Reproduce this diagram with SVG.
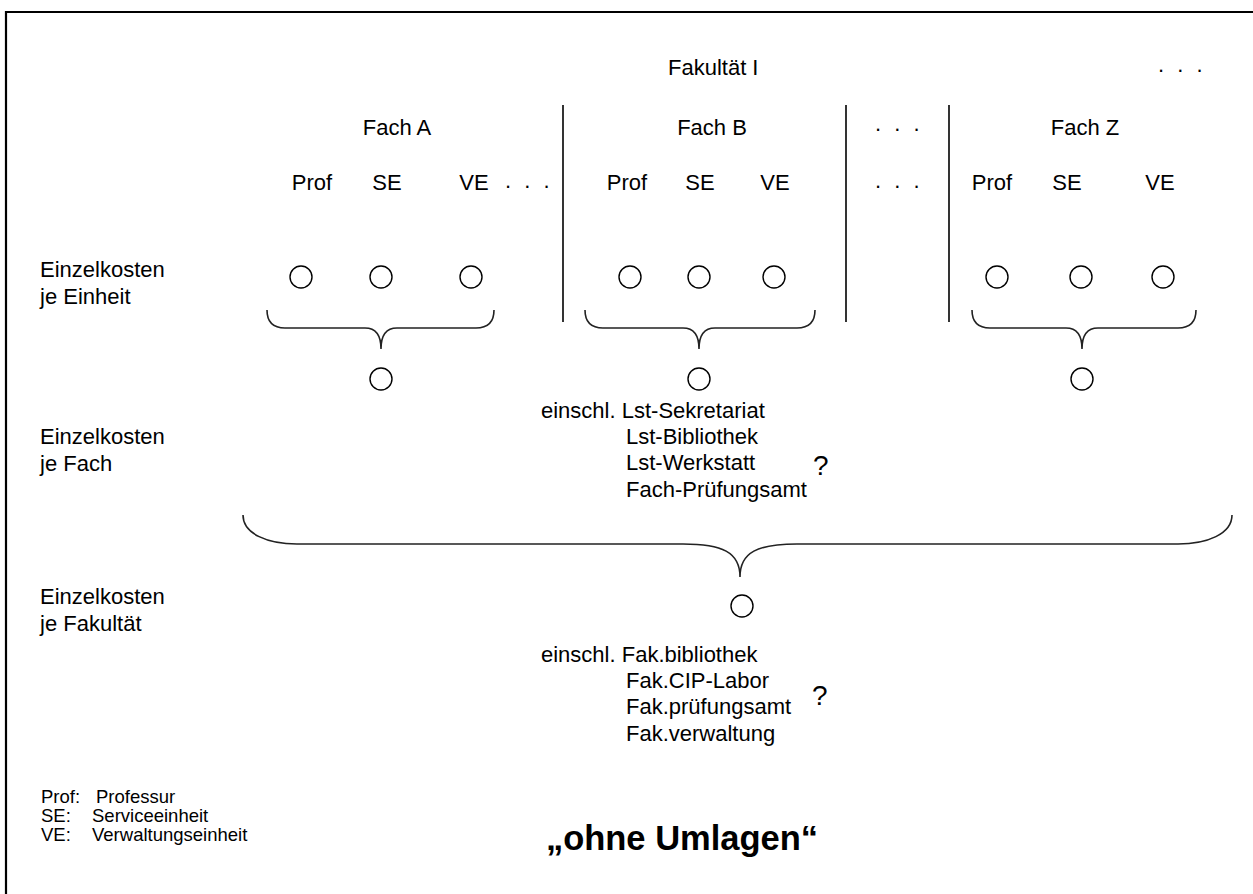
<svg xmlns="http://www.w3.org/2000/svg" width="1253" height="894" viewBox="0 0 1253 894">
  <style>
    text { font-family: "Liberation Sans", Arial, sans-serif; fill: #000; }
    .t { font-size: 22px; }
    .c { text-anchor: middle; }
    .dots { font-size: 22px; word-spacing: 7px; }
    .q { font-size: 28px; }
    .leg { font-size: 18.5px; }
    .title { font-size: 34.5px; font-weight: bold; text-anchor: middle; }
    .unit { fill: #fff; stroke: #000; stroke-width: 1.4; }
    .brace { fill: none; stroke: #222; stroke-width: 1.6; }
    .sep { stroke: #000; stroke-width: 1.6; }
  </style>

  <rect width="1253" height="894" fill="#fff"/>
  <!-- frame -->
  <path d="M6,894 V12 H1253" fill="none" stroke="#000" stroke-width="2.2"/>

  <!-- headers -->
  <g id="header">
    <text class="t" x="668" y="75">Fakultät I</text>
    <text class="dots" x="1158" y="72">. . .</text>
    <text class="t c" x="397" y="135">Fach A</text>
    <text class="t c" x="712" y="135">Fach B</text>
    <text class="dots" x="875" y="131">. . .</text>
    <text class="t c" x="1085" y="135">Fach Z</text>

    <text class="t c" x="312" y="190">Prof</text>
    <text class="t c" x="387" y="190">SE</text>
    <text class="t c" x="474" y="190">VE</text>
    <text class="dots" x="505" y="188">. . .</text>
    <text class="t c" x="627" y="190">Prof</text>
    <text class="t c" x="700" y="190">SE</text>
    <text class="t c" x="775" y="190">VE</text>
    <text class="dots" x="875" y="188">. . .</text>
    <text class="t c" x="992" y="190">Prof</text>
    <text class="t c" x="1067" y="190">SE</text>
    <text class="t c" x="1160" y="190">VE</text>
  </g>

  <!-- separators between subjects -->
  <g id="separators">
    <line class="sep" x1="563" y1="105" x2="563" y2="322"/>
    <line class="sep" x1="846" y1="105" x2="846" y2="322"/>
    <line class="sep" x1="949" y1="105" x2="949" y2="322"/>
  </g>

  <!-- row labels -->
  <g id="labels">
    <text class="t" x="40" y="277">Einzelkosten</text>
    <text class="t" x="40" y="304">je Einheit</text>
    <text class="t" x="40" y="444">Einzelkosten</text>
    <text class="t" x="40" y="471">je Fach</text>
    <text class="t" x="40" y="604">Einzelkosten</text>
    <text class="t" x="40" y="631">je Fakultät</text>
  </g>

  <!-- cost units per subject -->
  <g id="units-a">
    <circle class="unit" cx="301" cy="277" r="11"/>
    <circle class="unit" cx="381" cy="277" r="11"/>
    <circle class="unit" cx="471" cy="277" r="11"/>
  </g>
  <g id="units-b">
    <circle class="unit" cx="630" cy="277" r="11"/>
    <circle class="unit" cx="699" cy="277" r="11"/>
    <circle class="unit" cx="774" cy="277" r="11"/>
  </g>
  <g id="units-z">
    <circle class="unit" cx="997" cy="277" r="11"/>
    <circle class="unit" cx="1081" cy="277" r="11"/>
    <circle class="unit" cx="1163" cy="277" r="11"/>
  </g>

  <!-- braces -->
  <g id="connectors">
    <path class="brace" d="M267,310 C267,322 273,328 285,328 L365,328 C376,328 381,335 381,349 C381,335 386,328 397,328 L476,328 C488,328 494,322 494,310"/>
    <path class="brace" d="M585,310 C585,322 591,328 603,328 L683,328 C694,328 699,335 699,349 C699,335 704,328 715,328 L797,328 C809,328 815,322 815,310"/>
    <path class="brace" d="M972,310 C972,322 978,328 990,328 L1066,328 C1077,328 1082,335 1082,349 C1082,335 1087,328 1098,328 L1178,328 C1190,328 1196,322 1196,310"/>
    <path class="brace" d="M243,515 C243,534 268,544 297,544 L683,544 C722,544 740,552 740,577 C740,552 758,544 797,544 L1178,544 C1207,544 1232,534 1232,515"/>
  </g>

  <!-- subject totals -->
  <g id="fach-a"><circle class="unit" cx="381" cy="379" r="11"/></g>
  <g id="fach-b"><circle class="unit" cx="699" cy="379" r="11"/></g>
  <g id="fach-z"><circle class="unit" cx="1082" cy="379" r="11"/></g>

  <g id="fach-note">
    <text class="t" x="541" y="418">einschl. Lst-Sekretariat</text>
    <text class="t" x="626" y="444">Lst-Bibliothek</text>
    <text class="t" x="626" y="470">Lst-Werkstatt</text>
    <text class="t" x="626" y="497">Fach-Prüfungsamt</text>
    <text class="q" x="813" y="475">?</text>
  </g>

  <!-- faculty total -->
  <g id="fakultaet"><circle class="unit" cx="742" cy="606" r="11"/></g>

  <g id="fak-note">
    <text class="t" x="541" y="662">einschl. Fak.bibliothek</text>
    <text class="t" x="626" y="688">Fak.CIP-Labor</text>
    <text class="t" x="626" y="714">Fak.prüfungsamt</text>
    <text class="t" x="626" y="741">Fak.verwaltung</text>
    <text class="q" x="812" y="705">?</text>
  </g>

  <!-- legend -->
  <g id="legend">
    <text class="leg" x="41" y="803">Prof:</text>
    <text class="leg" x="96" y="803">Professur</text>
    <text class="leg" x="41" y="822">SE:</text>
    <text class="leg" x="92" y="822">Serviceeinheit</text>
    <text class="leg" x="41" y="841">VE:</text>
    <text class="leg" x="92" y="841">Verwaltungseinheit</text>
  </g>

  <text class="title" x="682" y="850">„ohne Umlagen“</text>
</svg>
